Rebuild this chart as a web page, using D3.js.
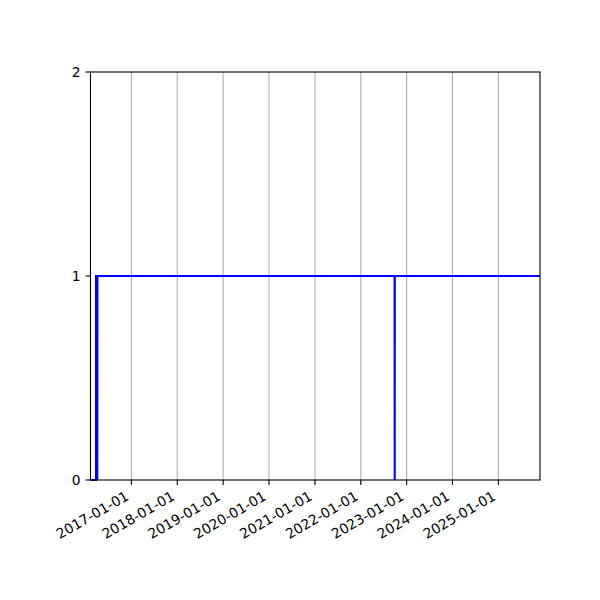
<!DOCTYPE html>
<meta charset="utf-8">
<style>
  body { margin: 0; background: #fff; }
  text { font-family: "DejaVu Sans", sans-serif; font-size: 13.9px; fill: #000; }
</style>
<body>
<script src="https://cdn.jsdelivr.net/npm/d3@7"></script>
<script>

// series (state flag, 0/1)
var dates = ["2016-02-10", "2016-03-25", "2016-03-25", "2016-04-03", "2016-04-04", "2016-04-05",
             "2022-09-27", "2022-09-28", "2022-09-29", "2025-11-28"];
var values = [0, 0, 1, 1, 0, 1, 1, 0, 1, 1];
var xTicks = ["2017-01-01", "2018-01-01", "2019-01-01", "2020-01-01", "2021-01-01",
              "2022-01-01", "2023-01-01", "2024-01-01", "2025-01-01"];
var yTicks = [0, 1, 2];

var width = 600, height = 600;
var margin = {left: 90.5, right: 60, top: 72, bottom: 120};

var parse = d3.utcParse("%Y-%m-%d");
var data = dates.map(function (d, i) { return {date: parse(d), value: values[i]}; });

var svg = d3.select("body").append("svg")
  .attr("width", width)
  .attr("height", height);

var x = d3.scaleUtc()
  .domain(d3.extent(data, function (d) { return d.date; }))
  .range([margin.left, width - margin.right]);

var y = d3.scaleLinear()
  .domain([0, 2])
  .range([height - margin.bottom, margin.top]);

// vertical grid
svg.append("g")
  .selectAll("line")
  .data(xTicks)
  .enter().append("line")
    .attr("x1", function (d) { return x(parse(d)); })
    .attr("x2", function (d) { return x(parse(d)); })
    .attr("y1", y(0))
    .attr("y2", y(2))
    .attr("stroke", "#b0b0b0")
    .attr("stroke-width", 1.1);

// the series
var line = d3.line()
  .x(function (d) { return x(d.date); })
  .y(function (d) { return y(d.value); });

svg.append("path")
  .datum(data)
  .attr("d", line)
  .attr("fill", "none")
  .attr("stroke", "#0000ff")
  .attr("stroke-width", 2.08)
  .attr("stroke-linejoin", "miter");

// frame
svg.append("rect")
  .attr("x", margin.left)
  .attr("y", margin.top)
  .attr("width", width - margin.right - margin.left)
  .attr("height", height - margin.bottom - margin.top)
  .attr("fill", "none")
  .attr("stroke", "#000")
  .attr("stroke-width", 1.1);

// x axis: ticks + rotated labels
var xAxis = svg.append("g");
xAxis.selectAll("line")
  .data(xTicks)
  .enter().append("line")
    .attr("x1", function (d) { return x(parse(d)); })
    .attr("x2", function (d) { return x(parse(d)); })
    .attr("y1", y(0))
    .attr("y2", y(0) + 4.9)
    .attr("stroke", "#000")
    .attr("stroke-width", 1.1);

xAxis.selectAll("text")
  .data(xTicks)
  .enter().append("text")
    .attr("text-anchor", "end")
    .attr("transform", function (d) {
      return "translate(" + (x(parse(d)) - 1.7) + "," + (y(0) + 19) + ") rotate(-30)";
    })
    .text(function (d) { return d; });

// y axis
var yAxis = svg.append("g");
yAxis.selectAll("line")
  .data(yTicks)
  .enter().append("line")
    .attr("x1", margin.left - 4.9)
    .attr("x2", margin.left)
    .attr("y1", function (d) { return y(d); })
    .attr("y2", function (d) { return y(d); })
    .attr("stroke", "#000")
    .attr("stroke-width", 1.1);

yAxis.selectAll("text")
  .data(yTicks)
  .enter().append("text")
    .attr("text-anchor", "end")
    .attr("dominant-baseline", "central")
    .attr("x", margin.left - 9.8)
    .attr("y", function (d) { return y(d); })
    .text(function (d) { return d; });

</script>
</body>
